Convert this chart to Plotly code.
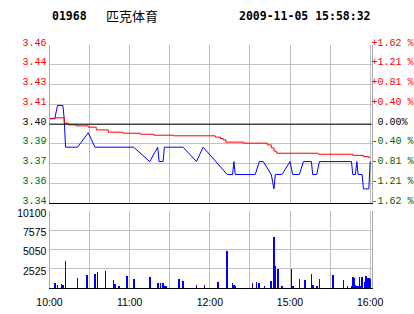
import plotly.graph_objects as go

DAY = "2009-11-05"

# ---- price line (minute price, vertices) ----
price_times = ["10:00","10:04","10:06","10:10","10:11","10:12","10:21","10:29","10:34","11:03",
               "11:15","11:21","11:22","11:25","11:26","11:40","11:50","11:55","12:13","12:17",
               "12:18","12:19","14:34","14:37","14:40","14:46","14:48","14:49","14:54","15:00",
               "15:02","15:07","15:10","15:16","15:17","15:20","15:22","15:46","15:47","15:49",
               "15:50","15:51","15:54","15:55","15:59","16:00"]
price_vals = [3.404,3.404,3.413,3.413,3.404,3.384,3.384,3.394,3.384,3.384,
              3.374,3.384,3.374,3.374,3.384,3.384,3.374,3.384,3.365,3.365,
              3.374,3.365,3.365,3.374,3.374,3.365,3.355,3.365,3.365,3.374,
              3.365,3.365,3.374,3.374,3.365,3.365,3.374,3.374,3.365,3.365,
              3.374,3.365,3.365,3.355,3.355,3.374]

# ---- average price line ----
avg_times = ["10:00","10:04","10:11","10:14","10:20","10:29","10:35","10:44","10:55","11:08",
             "11:18","11:33","12:04","12:08","12:10","12:12","12:25","14:43","14:46","14:48",
             "14:49","14:50","15:21","15:47","15:55","15:59","16:00"]
avg_vals = [3.4037,3.4044,3.4007,3.3995,3.3988,3.3979,3.3960,3.3944,3.3937,3.3930,
            3.3923,3.3919,3.3910,3.3900,3.3891,3.3875,3.3868,3.3856,3.3835,3.3815,
            3.3809,3.3798,3.3791,3.3783,3.3774,3.3767,3.3767]

# ---- volume ----
vol_times = ["10:00","10:04","10:06","10:09","10:10","10:12","10:21","10:28","10:34","10:36",
             "10:42","10:48","10:49","10:52","10:58","11:03","11:15","11:21","11:23","11:25",
             "11:26","11:27","11:37","11:40","11:50","11:56","12:06","12:13","12:17","12:18",
             "12:19","14:32","14:35","14:37","14:41","14:46","14:48","14:49","14:51","14:54",
             "15:01","15:02","15:07","15:11","15:16","15:17","15:20","15:22","15:32","15:40",
             "15:43","15:46","15:47","15:48","15:49","15:50","15:51","15:52","15:53","15:54",
             "15:56","15:57","15:58","15:59","16:00"]
vol_vals = [10100,730,430,560,430,3530,1380,1720,1850,2110,
            2240,1080,560,300,1590,1200,1460,730,730,690,
            340,300,1200,950,430,430,820,4820,730,470,
            340,730,860,730,300,990,6670,2880,2540,300,
            2540,300,1200,1080,1850,430,300,1200,1720,1080,
            300,300,1460,1380,430,300,300,1460,300,1460,
            820,1590,1330,1380,1200]

# ---- axis labels ----
prev_close = 3.40
price_step = 0.01375
left_labels = ["3.46","3.44","3.43","3.41","3.40","3.39","3.37","3.36","3.34"]
right_labels = ["+1.62 %","+1.21 %","+0.81 %","+0.40 %","\u00a00.00%","-0.40 %","-0.81 %","-1.21 %","-1.62 %"]
vol_ticks = [2525, 5050, 7575, 10100]
vol_labels = ["2525", "5050", "7575", "10100"]
time_grid = ["10:00","10:30","11:00","11:30","12:00","14:30","15:00","15:30","16:00"]
time_labels = ["10:00","","11:00","","12:00","","15:00","","16:00"]

RED = "#FF0000"
GREEN = "#006400"
BLUE = "#0000FF"
GRID = "#C0C0C0"
AXL = "#A8A8A8"

def dt(ts):
    return [f"{DAY} {t}" for t in ts]

price_tickvals = [prev_close + k * price_step for k in range(4, -5, -1)]
def colored(labels):
    out = []
    for i, s in enumerate(labels):
        c = RED if i < 4 else ("#000000" if i == 4 else GREEN)
        out.append(f"<span style='color:{c}'>{s}</span>")
    return out

W, H = 414, 314
xd = [49.5 / W, 371.5 / W]
yd_price = [1 - 203.3 / H, 1 - 45 / H]
yd_vol = [1 - 288.3 / H, 1 - 211 / H]

fig = go.Figure()
fig.add_trace(go.Scatter(x=dt(price_times), y=price_vals, mode="lines",
                         line=dict(color=BLUE, width=1), xaxis="x", yaxis="y",
                         hoverinfo="skip"))
fig.add_trace(go.Scatter(x=dt(avg_times), y=avg_vals, mode="lines",
                         line=dict(color=RED, width=1, shape="hv"), xaxis="x", yaxis="y",
                         hoverinfo="skip"))
fig.add_trace(go.Bar(x=dt(vol_times), y=vol_vals, width=75000,
                     marker=dict(color=BLUE, line=dict(width=0)),
                     xaxis="x2", yaxis="y3", hoverinfo="skip"))
# invisible trace to activate right axis
fig.add_trace(go.Scatter(x=[dt(["10:00"])[0]], y=[prev_close], mode="markers",
                         marker=dict(opacity=0), xaxis="x", yaxis="y2", hoverinfo="skip"))

xrange = [f"{DAY} 10:00", f"{DAY} 16:01"]
rb = [dict(bounds=[12.5, 14.5], pattern="hour")]
mono = "Liberation Mono, DejaVu Sans Mono, monospace"
sans = "Liberation Sans, Arial, sans-serif"

fig.update_layout(
    width=W, height=H, margin=dict(l=0, r=0, t=0, b=0, autoexpand=False),
    paper_bgcolor="white", plot_bgcolor="white", showlegend=False,
    bargap=0,
    xaxis=dict(domain=xd, anchor="y", type="date", range=xrange, rangebreaks=rb,
               tickvals=dt(time_grid), showticklabels=False, ticks="", automargin=False,
               showgrid=True, gridcolor=GRID, gridwidth=1,
               showline=True, linecolor="#000000", linewidth=1, zeroline=False),
    yaxis=dict(domain=yd_price, anchor="x", range=[prev_close - 4 * price_step, prev_close + 4 * price_step],
               tickvals=price_tickvals, ticktext=colored(left_labels), ticks="", automargin=False,
               tickfont=dict(family=mono, size=10), ticklabelshift=-3, ticklabelstandoff=0,
               showgrid=True, gridcolor=GRID, gridwidth=1,
               showline=True, linecolor=AXL, linewidth=1, mirror=True, zeroline=False),
    yaxis2=dict(overlaying="y", side="right", anchor="x", automargin=False,
                range=[prev_close - 4 * price_step, prev_close + 4 * price_step],
                tickvals=price_tickvals, ticktext=colored(right_labels), ticks="",
                ticklabelshift=-3, ticklabelstandoff=-1,
                tickfont=dict(family=mono, size=10), showgrid=False, showline=False, zeroline=False),
    xaxis2=dict(domain=xd, anchor="y3", type="date", matches="x", rangebreaks=rb, automargin=False,
                tickvals=dt(time_grid), ticktext=time_labels, ticks="", ticklabelstandoff=4,
                tickfont=dict(family=sans, size=10.5, color="#000000"),
                showgrid=True, gridcolor=GRID, gridwidth=1,
                showline=True, linecolor="#000000", linewidth=1, zeroline=False),
    yaxis3=dict(domain=yd_vol, anchor="x2", range=[0, 10100], automargin=False,
                tickvals=vol_ticks, ticktext=vol_labels, ticks="", ticklabelstandoff=0,
                ticklabelshift=2,
                tickfont=dict(family=sans, size=10.5, color="#000000"),
                showgrid=True, gridcolor=GRID, gridwidth=1,
                showline=True, linecolor=AXL, linewidth=1, mirror=True, zeroline=False),
    shapes=[dict(type="line", xref="x domain", yref="y", x0=0, x1=1, y0=prev_close, y1=prev_close,
                 line=dict(color="#000000", width=1))],
    annotations=[
        dict(text="<b>01968</b>", x=50 / W, y=1 - 16 / H, xref="paper", yref="paper",
             xanchor="left", yanchor="middle", showarrow=False,
             font=dict(family="DejaVu Sans Mono", size=11.5, color="#000000")),
        dict(text="匹克体育", x=104 / W, y=1 - 16 / H, xref="paper", yref="paper",
             xanchor="left", yanchor="middle", showarrow=False,
             font=dict(family="Noto Sans CJK SC", size=13, color="#000000")),
        dict(text="<b>2009-11-05 15:58:32</b>", x=237 / W, y=1 - 16 / H, xref="paper", yref="paper",
             xanchor="left", yanchor="middle", showarrow=False,
             font=dict(family="DejaVu Sans Mono", size=11.5, color="#000000")),
    ],
)

fig.write_html("out.html", config={"displayModeBar": False, "staticPlot": True})
